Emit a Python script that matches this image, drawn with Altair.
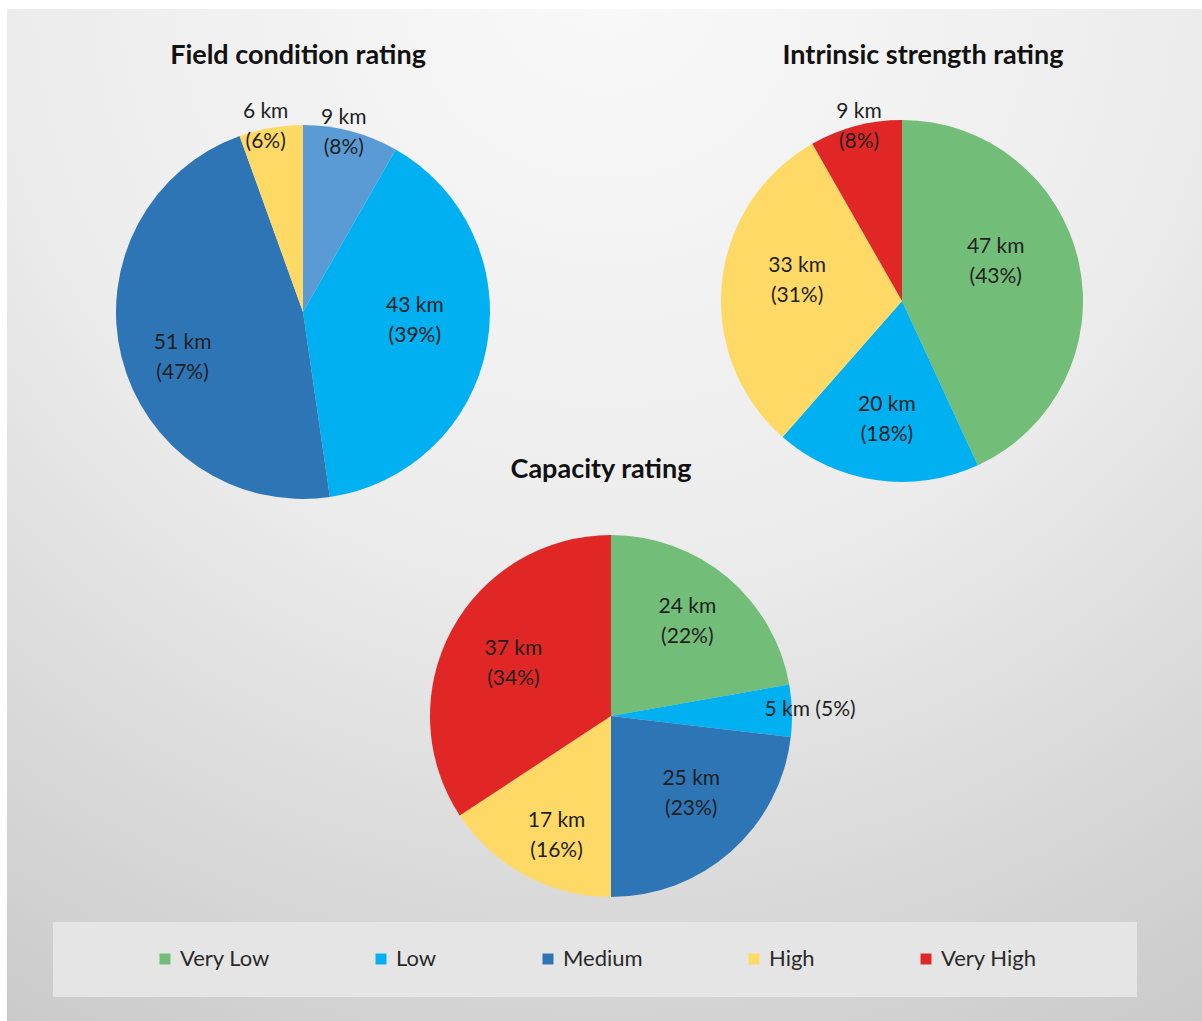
import altair as alt
import pandas as pd

# ---------------- data ----------------
LEGEND_CATS = ["Very Low", "Low", "Medium", "High", "Very High"]
LEGEND_COLORS = ["#72bd78", "#00b0f0", "#2e75b6", "#ffd966", "#e12626"]
EXTRA_CAT = "Medium (lighter shade)"
EXTRA_COLOR = "#5b9bd5"

TITLES = ["Field condition rating", "Intrinsic strength rating", "Capacity rating"]

field_cats = [EXTRA_CAT, "Low", "Medium", "High"]
field_km = [9, 43, 51, 6]
field_pct = [8, 39, 47, 6]

intr_cats = ["Very Low", "Low", "High", "Very High"]
intr_km = [47, 20, 33, 9]
intr_pct = [43, 18, 31, 8]

cap_cats = ["Very Low", "Low", "Medium", "High", "Very High"]
cap_km = [24, 5, 25, 17, 37]
cap_pct = [22, 5, 23, 16, 34]

# ---------------- style / layout ----------------
FONT = "Lato"
TEXT_COLOR = "#1f1f1f"
LINE_HEIGHT = 30
# pie centre x, centre y, radius (pixels)
FIELD_GEOM = (303, 312, 187)
INTR_GEOM = (902, 301, 181)
CAP_GEOM = (611, 716, 181)
# label placement: distance from centre (fraction of radius) and angular nudge (degrees)
FIELD_LR = [0.98, 0.60, 0.69, 1.01]
FIELD_NUDGE = [-2, -6, -7, -1.5]
INTR_LR = [0.56, 0.66, 0.59, 0.99]
INTR_NUDGE = [-10, -1, 5, 1]
CAP_LR = [0.67, 1.10, 0.62, 0.73, 0.61]
CAP_NUDGE = [-1, 0, -4, -4, -0.5]
CAP_SINGLE_LINE = [False, True, False, False, False]

color_scale = alt.Scale(domain=LEGEND_CATS + [EXTRA_CAT],
                        range=LEGEND_COLORS + [EXTRA_COLOR])


def make_df(cats, km, pct, lr, nudge, r, single=None):
    single = single or [False] * len(cats)
    labels = [f"{k} km ({p}%)" if s else f"{k} km\n({p}%)"
              for k, p, s in zip(km, pct, single)]
    return pd.DataFrame({
        "idx": list(range(len(cats))),
        "cat": cats,
        "km": km,
        "label": labels,
        "nl": [1 if s else 2 for s in single],
        "lr": [f * r for f in lr],
        "nudge": nudge,
    })


def pie(df, geom, show_legend):
    cx, cy, r = geom
    color_kwargs = dict(scale=color_scale)
    if show_legend:
        color_kwargs["legend"] = alt.Legend(
            values=LEGEND_CATS, orient="none", legendX=154, legendY=948,
            direction="horizontal", title=None,
        )
    arc = alt.Chart(df).mark_arc(radius=r).encode(
        theta=alt.Theta("km:Q", stack=True),
        order=alt.Order("idx:Q"),
        x=alt.value(cx), y=alt.value(cy),
        color=alt.Color("cat:N", **color_kwargs),
    )
    txt = alt.Chart(df).transform_joinaggregate(
        total="sum(km)"
    ).transform_window(
        cum="sum(km)", sort=[alt.SortField("idx")], frame=[None, 0]
    ).transform_calculate(
        mid="((datum.cum - datum.km / 2) / datum.total * 360 + datum.nudge) * PI / 180",
    ).transform_calculate(
        px=f"{cx} + datum.lr * sin(datum.mid)",
        py=f"{cy} - datum.lr * cos(datum.mid) - (datum.nl - 1) * {LINE_HEIGHT} / 2",
    ).mark_text(font=FONT, fontSize=21, lineBreak="\n", lineHeight=LINE_HEIGHT,
                color=TEXT_COLOR, baseline="middle", align="center").encode(
        x=alt.X("px:Q", scale=None),
        y=alt.Y("py:Q", scale=None),
        text="label:N",
    )
    return [arc, txt]


one = pd.DataFrame({"a": [0]})

background = alt.Chart(one).mark_rect(
    fill=alt.RadialGradient(
        gradient="radial",
        stops=[alt.GradientStop(offset=0, color="#f9f9f9"),
               alt.GradientStop(offset=0.45, color="#ececec"),
               alt.GradientStop(offset=1, color="#c4c4c4")],
        x1=0.5, y1=0.05, x2=0.5, y2=0.05, r1=0, r2=1.1,
    )
).encode(x=alt.value(7), x2=alt.value(1202), y=alt.value(9), y2=alt.value(1021))

legend_box = alt.Chart(one).mark_rect(fill="#e5e5e5").encode(
    x=alt.value(53), x2=alt.value(1137), y=alt.value(922), y2=alt.value(997)
)

title_pos = [(298, 56), (923, 56), (601, 470)]
titles = [
    alt.Chart(pd.DataFrame({"t": [t]})).mark_text(
        font=FONT, fontSize=27, fontWeight="bold", color="#111111",
        align="center", baseline="middle"
    ).encode(x=alt.value(px), y=alt.value(py), text="t:N")
    for t, (px, py) in zip(TITLES, title_pos)
]

layers = [background, legend_box] + titles
layers += pie(make_df(field_cats, field_km, field_pct, FIELD_LR, FIELD_NUDGE, FIELD_GEOM[2]),
              FIELD_GEOM, True)
layers += pie(make_df(intr_cats, intr_km, intr_pct, INTR_LR, INTR_NUDGE, INTR_GEOM[2]),
              INTR_GEOM, False)
layers += pie(make_df(cap_cats, cap_km, cap_pct, CAP_LR, CAP_NUDGE, CAP_GEOM[2], CAP_SINGLE_LINE),
              CAP_GEOM, False)

chart = alt.layer(*layers).resolve_scale(theta="independent").properties(
    width=1202, height=1021,
    autosize=alt.AutoSizeParams(type="none"),
    padding=0,
    background="white",
).configure_view(stroke=None).configure_legend(
    labelFont=FONT, labelFontSize=22, labelColor="#2a2a2a", labelOffset=4,
    symbolType="square", symbolSize=120, symbolStrokeWidth=0,
    columnPadding=100, labelLimit=300,
)

chart.save("out.html", embed_options={"renderer": "svg", "actions": False})
